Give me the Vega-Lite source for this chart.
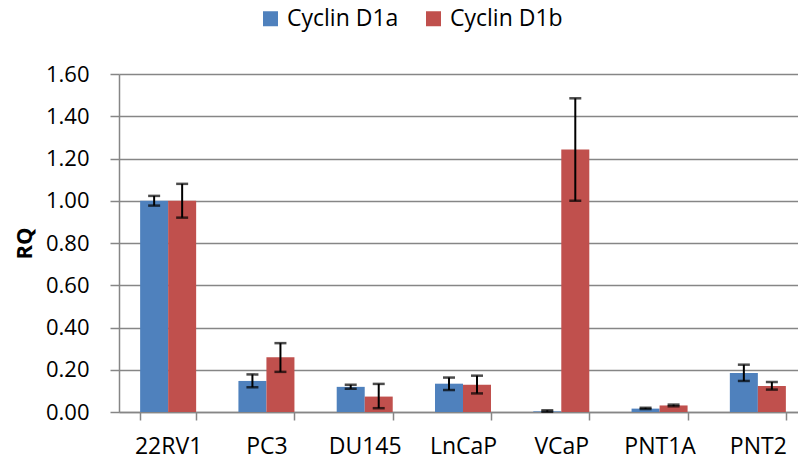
{
  "$schema": "https://vega.github.io/schema/vega-lite/v6.json",
  "width": 679,
  "height": 338,
  "autosize": {"type": "none"},
  "padding": {"left": 119, "top": 74, "right": 0, "bottom": 47},
  "background": "white",
  "config": {
    "view": {"stroke": null},
    "font": "Open Sans",
    "axis": {"labelFont": "Open Sans", "labelColor": "#000000", "domainColor": "#868686", "tickColor": "#868686", "gridColor": "#868686"}
  },
  "data": {
    "values": [
      {"cell": "22RV1", "series": "Cyclin D1a", "value": 1.00, "lo": 0.977, "hi": 1.023},
      {"cell": "22RV1", "series": "Cyclin D1b", "value": 1.00, "lo": 0.92, "hi": 1.08},
      {"cell": "PC3", "series": "Cyclin D1a", "value": 0.147, "lo": 0.117, "hi": 0.178},
      {"cell": "PC3", "series": "Cyclin D1b", "value": 0.259, "lo": 0.19, "hi": 0.326},
      {"cell": "DU145", "series": "Cyclin D1a", "value": 0.119, "lo": 0.110, "hi": 0.129},
      {"cell": "DU145", "series": "Cyclin D1b", "value": 0.073, "lo": 0.018, "hi": 0.133},
      {"cell": "LnCaP", "series": "Cyclin D1a", "value": 0.134, "lo": 0.104, "hi": 0.163},
      {"cell": "LnCaP", "series": "Cyclin D1b", "value": 0.129, "lo": 0.088, "hi": 0.172},
      {"cell": "VCaP", "series": "Cyclin D1a", "value": 0.003, "lo": 0.001, "hi": 0.008},
      {"cell": "VCaP", "series": "Cyclin D1b", "value": 1.243, "lo": 1.0, "hi": 1.485},
      {"cell": "PNT1A", "series": "Cyclin D1a", "value": 0.016, "lo": 0.014, "hi": 0.02},
      {"cell": "PNT1A", "series": "Cyclin D1b", "value": 0.031, "lo": 0.027, "hi": 0.035},
      {"cell": "PNT2", "series": "Cyclin D1a", "value": 0.185, "lo": 0.147, "hi": 0.224},
      {"cell": "PNT2", "series": "Cyclin D1b", "value": 0.123, "lo": 0.106, "hi": 0.142}
    ]
  },
  "encoding": {
    "x": {
      "field": "cell", "type": "nominal", "sort": null,
      "scale": {"range": [0, 688], "paddingInner": 0.43, "paddingOuter": 0.215},
      "axis": {"title": null, "labelAngle": 0, "labelFontSize": 23, "tickBand": "extent", "tickSize": 8, "labelPadding": 15, "domainWidth": 1.5, "tickWidth": 1.5}
    },
    "xOffset": {"field": "series", "type": "nominal", "sort": ["Cyclin D1a", "Cyclin D1b"], "scale": {"paddingInner": 0, "paddingOuter": 0}}
  },
  "layer": [
    {
      "mark": {"type": "bar"},
      "encoding": {
        "y": {
          "field": "value", "type": "quantitative",
          "scale": {"domain": [0, 1.6], "nice": false},
          "axis": {"title": "RQ", "titleFont": "Open Sans", "titleFontSize": 22, "titleFontWeight": "bold", "titleColor": "#000000", "titlePadding": 9, "values": [0, 0.2, 0.4, 0.6, 0.8, 1.0, 1.2, 1.4, 1.6], "format": ".2f", "labelFontSize": 22, "tickSize": 9, "labelPadding": 21, "grid": true, "gridWidth": 1.5, "domainWidth": 1.5, "tickWidth": 1.5}
        },
        "color": {
          "field": "series", "type": "nominal",
          "scale": {"domain": ["Cyclin D1a", "Cyclin D1b"], "range": ["#4F81BD", "#C0504D"]},
          "legend": {"orient": "none", "legendX": 140, "legendY": -67, "direction": "horizontal", "title": null, "symbolType": "square", "symbolSize": 225, "symbolStrokeWidth": 0, "labelFont": "Open Sans", "labelFontSize": 23, "labelColor": "#000000", "columnPadding": 23, "labelOffset": 5}
        }
      }
    },
    {
      "mark": {"type": "rule", "color": "#000000", "strokeWidth": 2},
      "encoding": {
        "y": {"field": "lo", "type": "quantitative"},
        "y2": {"field": "hi"}
      }
    },
    {
      "mark": {"type": "tick", "color": "#000000", "thickness": 2.5, "size": 12},
      "encoding": {"y": {"field": "lo", "type": "quantitative"}}
    },
    {
      "mark": {"type": "tick", "color": "#000000", "thickness": 2.5, "size": 12},
      "encoding": {"y": {"field": "hi", "type": "quantitative"}}
    }
  ]
}
